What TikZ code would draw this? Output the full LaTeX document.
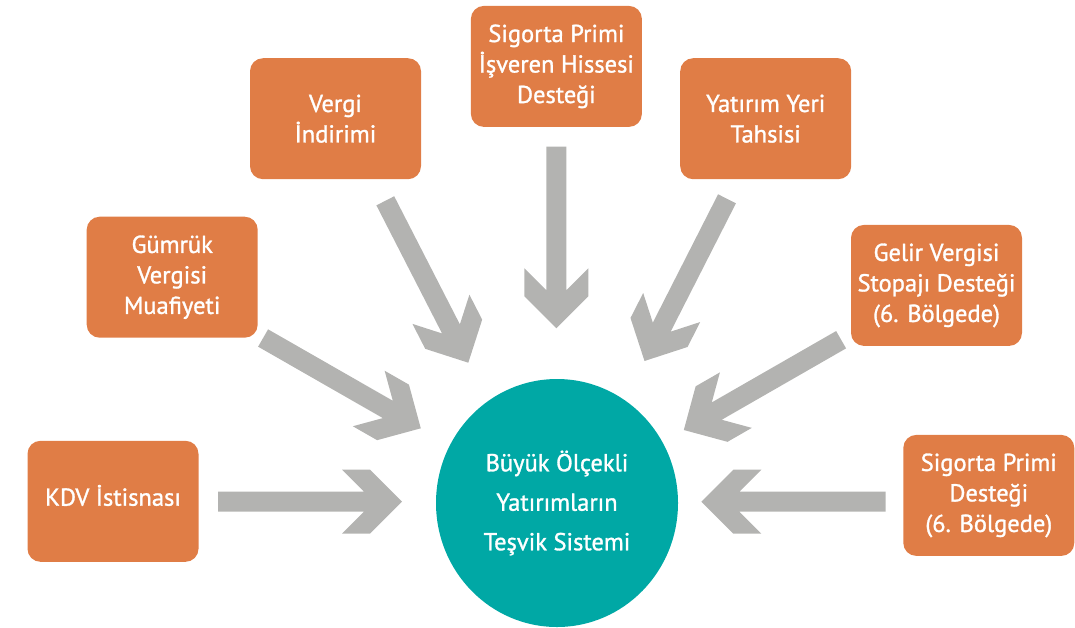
\documentclass[tikz,border=0pt]{standalone}
\usepackage{fontspec}
\setmainfont{PT Sans}
\newfontfamily\lblfont{PT Sans}[FakeBold=1.2]
\usetikzlibrary{calc,shapes.geometric}
\definecolor{boxorange}{RGB}{224,125,70}
\definecolor{circteal}{RGB}{0,168,165}
\definecolor{arrowgray}{RGB}{179,179,177}
\newcommand\blockarrow[2]{%
  \pgfpointdiff{\pgfpointanchor{#1}{center}}{\pgfpointanchor{#2}{center}}%
  \pgfgetlastxy{\badx}{\bady}%
  \pgfmathsetmacro\baang{atan2(\bady,\badx)}%
  \pgfmathsetmacro\balen{veclen(\badx,\bady)}%
  \fill[arrowgray, shift={(#1)}, rotate=\baang, x=1pt, y=1pt]
    (0,10) -- ({\balen-38},10) -- ({\balen-60},32) -- ({\balen-32},32)
    -- (\balen,0) -- ({\balen-32},-32) -- ({\balen-60},-32)
    -- ({\balen-38},-10) -- (0,-10) -- cycle;
}
\begin{document}
\begin{tikzpicture}[x=1pt,y=-1pt,
  box/.style={rectangle, rounded corners=13pt, fill=boxorange, text=white,
    minimum width=171pt, minimum height=121pt, align=center, inner sep=0pt,
    font=\lblfont\fontsize{24.5}{30.5}\selectfont},
  hub/.style={ellipse, fill=circteal, text=white, minimum width=242pt,
    minimum height=248pt, align=center, inner sep=0pt,
    font=\lblfont\fontsize{24.5}{39.5}\selectfont}]
\useasboundingbox (0,0) rectangle (1075,627);

\node[box, text depth=12pt] (kdv) at (113,501.3) {KDV İstisnası};
\node[box] (gum) at (172.2,277.2) {Gümrük\\Vergisi\\Muafiyeti};
\node[box] (ver) at (335.5,118.7) {Vergi\\İndirimi};
\node[box] (sig) at (556.4,66.4) {Sigorta Primi\\İşveren Hissesi\\Desteği};
\node[box] (yat) at (765.7,118.7) {Yatırım Yeri\\Tahsisi};
\node[box] (gel) at (936.5,285.4) {Gelir Vergisi\\Stopajı Desteği\\(6. Bölgede)};
\node[box] (sgp) at (988.8,495.4) {Sigorta Primi\\Desteği\\(6. Bölgede)};
\node[hub] (hub) at (557,503) {Büyük Ölçekli\\Yatırımların\\Teşvik Sistemi};

\coordinate (kdv-t) at (218,501.7);   \coordinate (kdv-h) at (402,501.7);
\coordinate (sgp-t) at (885.5,501.7); \coordinate (sgp-h) at (701.3,501.7);
\coordinate (sig-t) at (556.4,146.7); \coordinate (sig-h) at (556.4,328.3);
\coordinate (ver-t) at (385.3,200.8); \coordinate (ver-h) at (468.3,362.7);
\coordinate (yat-t) at (727,198.8);   \coordinate (yat-h) at (644.5,361);
\coordinate (gum-t) at (263.1,338);   \coordinate (gum-h) at (420.8,428.3);
\coordinate (gel-t) at (841.1,339.7); \coordinate (gel-h) at (683.8,430);

\blockarrow{kdv-t}{kdv-h}
\blockarrow{sgp-t}{sgp-h}
\blockarrow{sig-t}{sig-h}
\blockarrow{ver-t}{ver-h}
\blockarrow{yat-t}{yat-h}
\blockarrow{gum-t}{gum-h}
\blockarrow{gel-t}{gel-h}
\end{tikzpicture}
\end{document}
